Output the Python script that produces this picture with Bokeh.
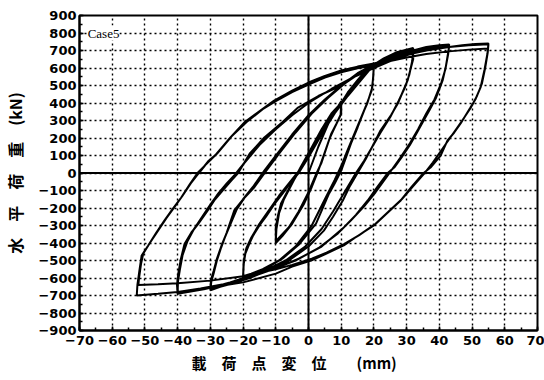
from bokeh.plotting import figure
from bokeh.models import Range1d, SingleIntervalTicker, Span, Label, Title
from bokeh.embed import file_html
from bokeh.resources import INLINE

# Load-displacement history: (displacement mm, load kN)
cycle_10mm = [(0, 0), (3, 150), (6, 280), (8, 350), (10, 410),
              (10, 340), (8.5, 280), (7, 226), (5, 120), (3, 14), (1, -80), (-1.3, -174), (-5, -290), (-8, -360), (-10, -400),
              (-10, -310), (-9.3, -240), (-8.4, -174), (-6, -90), (-3.2, 0), (0, 100), (2, 170), (6, 300), (8.5, 370), (10, 400),
              (9.8, 330), (8, 260), (6.5, 200), (4, 60), (2.5, 0), (0, -110), (-3, -220), (-6, -310), (-8.5, -360), (-10, -390),
              (-9.8, -320), (-9, -230), (-7.5, -150), (-5, -60), (-2.5, 30), (0.5, 130), (4, 250), (7, 340), (10, 400)]

cycle_20mm = [(12, 460), (15, 530), (17.5, 585), (20, 630),
              (19.8, 560), (19.5, 490), (18, 400), (17, 357), (15, 260), (13, 169), (11.5, 90), (10, 14), (8, -60), (6.3, -117),
              (2.3, -289), (-3, -410), (-8, -490), (-13, -545), (-17, -580), (-20, -600),
              (-19.8, -520), (-19.3, -460), (-18, -400), (-17, -360), (-15, -300), (-13, -250), (-10.5, -180), (-8, -120),
              (-5.5, -55), (-3, 0), (0, 90), (3, 190), (6, 290), (10, 400), (14, 490), (17, 560), (20, 625),
              (19.8, 550), (19.3, 470), (17.5, 380), (15.5, 290), (13.5, 200), (11.5, 110), (10, 40), (8, -40), (5, -150),
              (1, -300), (-4, -420), (-9, -500), (-14, -550), (-17.5, -575), (-20, -590),
              (-19.8, -500), (-19, -430), (-17.5, -370), (-15, -290), (-12, -210), (-9, -130), (-6, -60), (-3, 10), (0, 90),
              (4, 220), (8, 340), (12, 440), (16, 530), (20, 620)]

cycle_30mm = [(23, 655), (27, 690), (32, 715),
              (32, 650), (31, 580), (30.3, 529), (28.5, 450), (27.3, 397), (25.2, 330), (22, 243), (20, 169), (17.5, 80),
              (15, 0), (12.5, -80), (10.5, -157), (7.5, -250), (4.7, -329), (0, -420), (-6, -500), (-12, -555), (-18, -600),
              (-23, -630), (-27, -650), (-30, -670),
              (-29.7, -620), (-29, -574), (-28, -500), (-26.7, -426), (-25, -340), (-22.7, -214), (-20, -150), (-17, -80),
              (-13.5, 14), (-10, 100), (-5, 220), (0, 330), (5, 420), (10, 500), (15, 570), (20, 620), (25, 665), (29, 690),
              (32, 705),
              (31.7, 640), (30.8, 560), (29.5, 490), (27.5, 410), (25, 320), (22, 230), (19.5, 150), (17, 70), (14.5, 0),
              (11, -110), (7.5, -220), (4, -320), (-1, -420), (-7, -500), (-13, -555), (-19, -595), (-24, -625), (-30, -660),
              (-29.8, -610), (-29, -560), (-28, -490), (-26.5, -410), (-24.5, -320), (-22, -210), (-19.5, -140), (-16.5, -80),
              (-13, 10), (-9, 110), (-4, 230), (1, 340), (6, 430), (11, 510), (16, 575), (21, 625), (26, 665), (32, 700)]

cycle_40mm = [(36, 720), (40, 730), (43, 735),
              (42.8, 700), (42, 610), (41, 529), (39, 430), (37, 360), (35.2, 300), (33, 225), (31, 160), (28.5, 90),
              (26.2, 31), (24.2, 0), (21, -80), (18.1, -157), (14.5, -240), (10.8, -311), (4, -420), (-3, -490), (-10, -545),
              (-17, -590), (-25, -635), (-32, -665), (-40, -690),
              (-40.2, -640), (-39.8, -574), (-39, -490), (-37.9, -406), (-35.8, -340), (-33.7, -291), (-31, -220),
              (-28.8, -157), (-26, -95), (-23.6, -43), (-21.5, 0), (-18, 110), (-13.5, 203), (-8, 290), (-3.2, 374), (3, 440),
              (10, 500), (15, 560), (20, 603), (25, 650), (30, 685), (36, 710), (43, 725),
              (42.7, 680), (41.8, 590), (40.5, 510), (38.5, 420), (36, 340), (33.5, 250), (31, 170), (28, 85), (25.5, 20),
              (24, -20), (20.5, -110), (17, -190), (13, -270), (9, -345), (3, -430), (-4, -500), (-11, -550), (-18, -595),
              (-26, -635), (-33, -660), (-40, -680),
              (-39.9, -620), (-39.3, -550), (-38.5, -470), (-37, -390), (-35, -320), (-32.5, -250), (-30, -180),
              (-27.5, -115), (-25, -60), (-22.5, -10), (-19.5, 60), (-15, 160), (-10, 250), (-5, 330), (0, 400), (7, 480),
              (14, 550), (20, 600), (27, 655), (34, 695), (43, 720)]

cycle_50mm = [(47, 730), (51, 737), (55, 740),
              (54.7, 683), (53.8, 590), (52.6, 489), (51, 420), (49.5, 374), (46.5, 283), (44.5, 230), (42.5, 186),
              (40.4, 100), (37.3, 31), (35.2, 0), (31.5, -80), (28.2, -157), (24, -230), (20, -300), (15, -360), (10.8, -414),
              (5, -465), (0.8, -500), (-5, -535), (-10, -575), (-20, -625), (-30, -655), (-40, -680), (-46, -690),
              (-52.5, -700),
              (-52.3, -640), (-51.7, -560), (-51, -471), (-49, -414), (-46.5, -340), (-44, -271), (-41.5, -205),
              (-38.9, -140), (-36.3, -65), (-33.7, 5), (-31, 55), (-28.8, 95), (-24, 200), (-19.6, 289), (-14.5, 360),
              (-10.5, 414), (-5, 470), (0, 517), (5, 555), (10, 586), (15, 608), (20, 626), (25, 650), (30, 675), (36, 700),
              (43, 720), (49, 730), (55, 735),
              (54.8, 690), (54, 600), (53, 510), (51.5, 440), (49.5, 370), (47, 300), (44, 220), (41, 140), (38, 60),
              (35.5, 0), (32, -75), (28.5, -150), (24.5, -220), (20.5, -290), (15.5, -355), (11, -405), (5.5, -455),
              (1, -490), (-5, -525), (-10, -550), (-20, -590), (-30, -615), (-40, -630), (-46, -636), (-52, -640),
              (-51.8, -600), (-51.2, -520), (-50.5, -460), (-48.5, -400), (-46, -330), (-43.5, -260), (-41, -195),
              (-38.5, -130), (-36, -60), (-33.5, 0), (-30.5, 70), (-28, 110), (-23.5, 210), (-19, 290), (-14, 365),
              (-10, 410), (-5, 462), (0, 505), (5, 545), (10, 575), (15, 598), (20, 615), (25, 640), (30, 660), (36, 680),
              (43, 695), (49, 705), (55, 712)]

cycles = [cycle_10mm, cycle_20mm, cycle_30mm, cycle_40mm, cycle_50mm]

x_label = "載　荷　点　変　位　　(mm)"
y_label = "水　平　荷　重　(kN)"
case_label = "Case5"

disp = [pt[0] for c in cycles for pt in c]
load = [pt[1] for c in cycles for pt in c]

p = figure(width=544, height=380, x_range=Range1d(-70, 70), y_range=Range1d(-900, 900),
           output_backend="svg", toolbar_location=None,
           min_border_left=78, min_border_right=7, min_border_top=15, min_border_bottom=50)
p.background_fill_color = "white"
p.border_fill_color = "white"
p.outline_line_color = "black"
p.outline_line_width = 2

p.xaxis.ticker = SingleIntervalTicker(interval=10, num_minor_ticks=2)
p.yaxis.ticker = SingleIntervalTicker(interval=100, num_minor_ticks=2)

for ax in (p.xaxis[0], p.yaxis[0]):
    ax.axis_line_color = "black"
    ax.axis_line_width = 2
    ax.major_tick_in = 4
    ax.major_tick_out = 0
    ax.minor_tick_in = 3
    ax.minor_tick_out = 0
    ax.major_tick_line_color = "black"
    ax.major_tick_line_width = 1.5
    ax.minor_tick_line_color = "black"
    ax.minor_tick_line_width = 1.5
    ax.major_label_text_font = "DejaVu Sans"
    ax.major_label_text_font_style = "bold"
    ax.major_label_text_font_size = "13px"
    ax.major_label_text_color = "black"
    ax.axis_label_text_font = "Noto Sans CJK JP"
    ax.axis_label_text_font_style = "bold"
    ax.axis_label_text_font_size = "16px"
    ax.axis_label_text_color = "black"

p.xaxis.major_label_standoff = 5
p.yaxis.major_label_standoff = 3
p.yaxis.axis_label = y_label
p.yaxis.axis_label_standoff = 8

# x-axis title, a little left of centre as in the original
p.add_layout(Title(text=x_label, align="left", offset=112, standoff=4, text_font="Noto Sans CJK JP",
                   text_font_size="15px", text_font_style="bold", text_color="black"), "below")

for g in (p.xgrid[0], p.ygrid[0]):
    g.grid_line_color = "black"
    g.grid_line_dash = "2 3"
    g.grid_line_width = 1.4

p.add_layout(Span(location=0, dimension="height", line_color="black", line_width=2))
p.add_layout(Span(location=0, dimension="width", line_color="black", line_width=2))

p.line(disp, load, line_color="black", line_width=2)

p.add_layout(Label(x=-67.5, y=800, text=case_label, text_font="Liberation Serif", text_font_size="13px",
                   text_baseline="middle", text_color="black", background_fill_color="white"))

open("out.html", "w").write(file_html(p, INLINE))
